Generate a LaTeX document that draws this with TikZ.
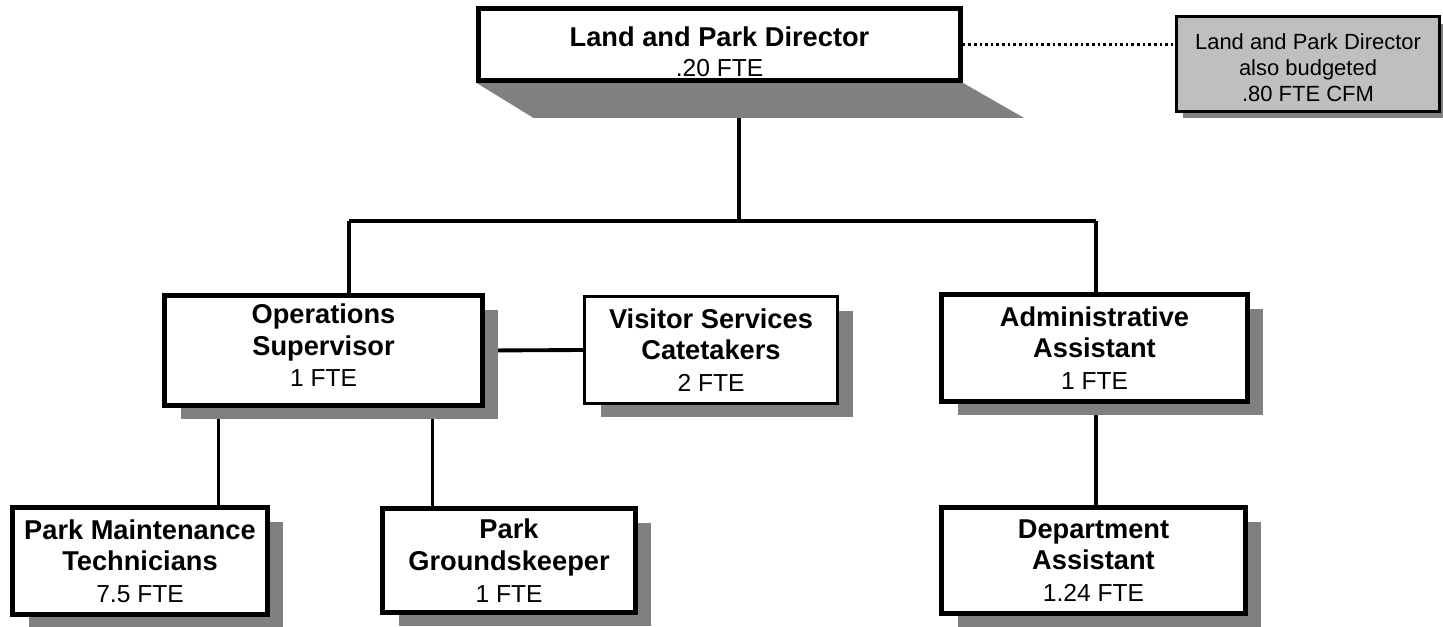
\documentclass[tikz,border=0pt]{standalone}
\usepackage{fontspec}
\setmainfont{Liberation Sans}
\usetikzlibrary{shadows, backgrounds}
\newcommand{\fte}[1]{{\fontsize{14}{18}\selectfont\mdseries #1 FTE}}

\begin{document}
\begin{tikzpicture}[x=0.02cm, y=-0.02cm,
    cella/.style={draw, line width=2.6pt, fill=white, align=center, inner sep=0pt,
        font=\fontsize{15.5}{18}\selectfont\bfseries},
    ruolo/.style={cella, drop shadow={shadow xshift=0.32cm, shadow yshift=-0.28cm, fill=gray, opacity=1}},
    nota/.style={draw, line width=2pt, fill=lightgray, align=center, inner sep=0pt,
        font=\fontsize{12.5}{14.7}\selectfont,
        drop shadow={shadow xshift=0.12cm, shadow yshift=-0.14cm, fill=gray, opacity=1}},
    link/.style={line width=2.2pt}]
    \useasboundingbox (0,0) rectangle (1443,626);

    % Direttore e nota
    \node[cella, minimum width=9.64cm, minimum height=1.44cm] (dir) at (719.5,44.5)
        {\rule{0pt}{19pt}Land and Park Director\\[-1pt]\fte{.20}};
    \node[nota, minimum width=5.26cm, minimum height=1.9cm] (budget) at (1308,64)
        {\rule{0pt}{13pt}Land and Park Director\\also budgeted\\.80 FTE CFM};

    % Secondo livello
    \node[ruolo, minimum width=6.36cm, minimum height=2.2cm] (ops) at (323.5,350.5)
        {Operations\\Supervisor\\\fte{1}\rule[-6pt]{0pt}{6pt}};
    \node[ruolo, line width=2pt, minimum width=5.06cm, minimum height=2.14cm] (vis) at (711,350)
        {Visitor Services\\Catetakers\\\fte{2}};
    \node[ruolo, minimum width=6.12cm, minimum height=2.14cm] (aa) at (1094.5,348)
        {Administrative\\Assistant\\\fte{1}};

    % Terzo livello
    \node[ruolo, minimum width=5.1cm, minimum height=2.14cm] (pmt) at (140,561)
        {Park Maintenance\\Technicians\\\fte{7.5}};
    \node[ruolo, minimum width=5.06cm, minimum height=2.08cm] (pg) at (509,560.5)
        {Park\\Groundskeeper\\\fte{1}};
    \node[ruolo, minimum width=6.08cm, minimum height=2.12cm] (da) at (1093.5,560.5)
        {Department\\Assistant\\\fte{1.24}};

    \begin{scope}[on background layer]
        % Collegamenti
        \coordinate (busC) at (739,221);
        \coordinate (busL) at (349,221);
        \coordinate (busR) at (1096,221);
        \draw[link] (busC |- dir.south) -- (busC);
        \draw[link] (busL) -- (busR);
        \draw[link] (busL) -- (busL |- ops.north);
        \draw[link] (busR) -- (busR |- aa.north);
        \draw[link] (ops.east) -- (vis.west);
        \draw[link] ([xshift=-2.1cm]ops.south) -- ([xshift=-2.1cm]ops.south |- pmt.north);
        \draw[link] ([xshift=2.18cm]ops.south) -- ([xshift=2.18cm]ops.south |- pg.north);
        \draw[link] (busR |- aa.south) -- (busR |- da.north);
        \draw[line width=1.5pt, dash pattern=on 1.5pt off 1.7pt] (dir.east) -- (dir.east -| budget.west);

        % Ombra prospettica del direttore
        \fill[gray] (dir.south west) -- (dir.south east) -- ++(61,35)
            -- ([shift={(57,35)}]dir.south west) -- cycle;
    \end{scope}
\end{tikzpicture}
\end{document}
